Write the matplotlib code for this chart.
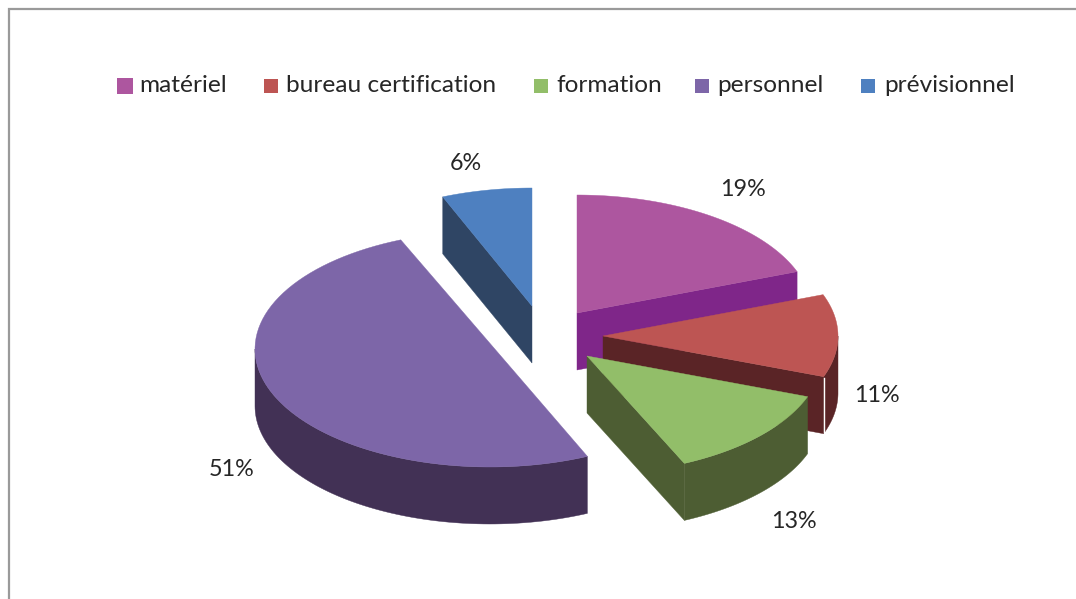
import numpy as np
import matplotlib
matplotlib.use("Agg")
import matplotlib.pyplot as plt
from matplotlib.patches import Polygon, Rectangle

# values of the chart, the printed percentages are rounded
categories = ["matériel", "bureau certification", "formation", "personnel", "prévisionnel"]
values = [19.3, 11.3, 12.6, 50.6, 6.2]
labels = ["19%", "11%", "13%", "51%", "6%"]

# colours: top of the slice, then its dark side
top_colors = ["#AD569F", "#BD5553", "#92BE69", "#7D66A8", "#4E80C0"]
side_colors = ["#7F2689", "#5A2426", "#4D5D33", "#423155", "#2F4564"]

# layout in pixels of the 1076x599 picture
apex = [(577, 313), (603, 336), (587, 356), (490, 349), (532, 306)]
rx = 235
ry = 118
depth = 57
label_pos = [(743, 190), (877, 396), (794, 521), (232, 469), (466, 164)]
swatch_x = [117, 264, 534, 695, 861]
swatch_size = [16, 14, 14, 14, 14]
legend_text_x = [139, 286, 556, 717, 884]

plt.rcParams["font.family"] = ["Lato", "DejaVu Sans"]

fig = plt.figure(figsize=(10.76, 5.99), dpi=100)
ax = fig.add_axes([0, 0, 1, 1])
ax.set_xlim(0, 1076)
ax.set_ylim(599, 0)
ax.axis("off")

# chart frame, its right and bottom sides are cut off by the picture
ax.plot([9, 9, 1076], [599, 9, 9], color="#9A9A9A", lw=1.6, solid_joinstyle="miter")


def point(c, t):
    # t in degrees, clockwise from the top
    r = np.radians(t)
    return c[0] + rx * np.sin(r), c[1] - ry * np.cos(r)


def arc(c, t0, t1):
    tt = np.linspace(t0, t1, 80)
    return np.column_stack(point(c, tt))


def down(pts):
    return pts + np.array([0, depth])


def add_poly(pts, color, z):
    ax.add_patch(Polygon(pts, closed=True, facecolor=color, edgecolor=color, lw=0.3, zorder=z))


# angles from the values
ends = np.cumsum(values) / np.sum(values) * 360
starts = np.concatenate([[0], ends[:-1]])

# back slices first, personnel last
order = [4, 0, 1, 2, 3]
for z, i in enumerate(order):
    c = np.array(apex[i], dtype=float)
    t0, t1 = starts[i], ends[i]
    col = side_colors[i]

    # flat cut faces, only those that look at the viewer
    if np.cos(np.radians(t0 - 90)) < -0.01:
        edge = np.array([c, point(c, t0)])
        add_poly(np.vstack([edge, down(edge)[::-1]]), col, z * 2 + 2)
    if np.cos(np.radians(t1 + 90)) < -0.01:
        edge = np.array([c, point(c, t1)])
        add_poly(np.vstack([edge, down(edge)[::-1]]), col, z * 2 + 2)

    # round side, front half only
    a0, a1 = max(t0, 90), min(t1, 270)
    if a1 > a0:
        rim = arc(c, a0, a1)
        add_poly(np.vstack([rim, down(rim)[::-1]]), col, z * 2 + 2)

    # top of the slice, the half pie has a straight cut in the reference
    if t1 - t0 > 180:
        add_poly(arc(c, t0, t1), top_colors[i], z * 2 + 3)
    else:
        add_poly(np.vstack([c, arc(c, t0, t1)]), top_colors[i], z * 2 + 3)

    ax.text(label_pos[i][0], label_pos[i][1], labels[i], fontsize=16.8, color="#262626",
            ha="center", va="center", zorder=30)

# small white gap seen on the bureau slice
x_gap, y_gap = point(apex[1], ends[1])
ax.plot([x_gap, x_gap], [y_gap + 1, y_gap + depth], color="white", lw=1, zorder=6)

# legend
for i in range(len(categories)):
    s = swatch_size[i]
    ax.add_patch(Rectangle((swatch_x[i], 86 - s / 2), s, s, facecolor=top_colors[i], edgecolor="none"))
    ax.text(legend_text_x[i], 85, categories[i], fontsize=17.6, color="#262626", ha="left", va="center")

fig.savefig("out.png", dpi=100, facecolor="white")
